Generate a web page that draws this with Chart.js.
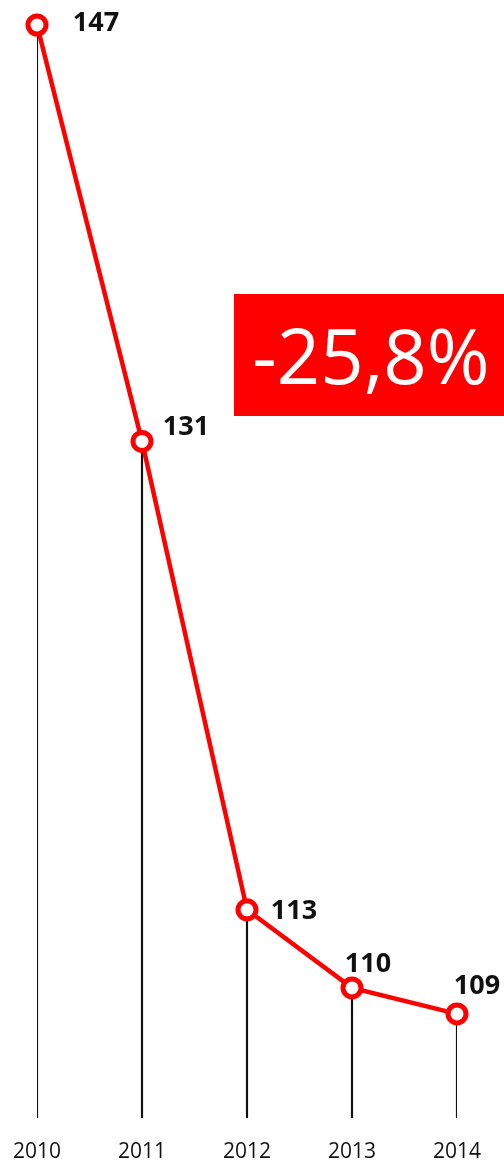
<!DOCTYPE html>
<html>
<head>
<meta charset="utf-8">
<script src="https://cdn.jsdelivr.net/npm/chart.js@4/dist/chart.umd.min.js"></script>
<style>
  html, body { margin: 0; padding: 0; background: #fff; }
  #wrap { position: relative; width: 504px; height: 1164px; }
  #badge {
    position: absolute; left: 234px; top: 294px; width: 270px; height: 122px;
    background: #ff0000; color: #fff;
    font-family: "Open Sans", sans-serif; font-size: 76px;
    line-height: 122px; text-align: center; padding-left: 2px;
  }
</style>
</head>
<body>
<div id="wrap">
  <canvas id="graph" width="504" height="1164"></canvas>
  <div id="badge">-25,8%</div>
</div>
<script>
// ------------ data ------------------------
var years = ["2010", "2011", "2012", "2013", "2014"];
var values = [147, 131, 113, 110, 109];
var yMin = 105;
var yMax = 147;

// ------------ value labels ----------------
// offsets of each label from its point (px)
var labelShift = [[59, -2], [44, -14], [47, 2], [16, -24], [20, -28]];

var valueLabels = {
  id: "valueLabels",
  afterDatasetsDraw: function (chart) {
    var ctx = chart.ctx;
    var meta = chart.getDatasetMeta(1);
    ctx.save();
    ctx.font = "bold 27px 'Open Sans', sans-serif";
    ctx.fillStyle = "#111";
    ctx.textAlign = "center";
    ctx.textBaseline = "middle";
    for (var i = 0; i < meta.data.length; i++) {
      var pt = meta.data[i];
      ctx.fillText(values[i], pt.x + labelShift[i][0], pt.y + labelShift[i][1]);
    }
    ctx.restore();
  }
};

// ------------ chart -----------------------
const ctx = document.getElementById("graph");

const myChart = new Chart(ctx, {
  type: "bar",
  data: {
    labels: years,
    datasets: [
      {
        type: "bar",
        data: values,
        backgroundColor: "#111",
        barThickness: 1.5,
        order: 2,
      },
      {
        type: "line",
        data: values,
        borderColor: "#ff0000",
        borderWidth: 4.5,
        pointRadius: 9,
        pointBorderWidth: 5,
        pointBackgroundColor: "#fff",
        pointBorderColor: "#ff0000",
        tension: 0,
        clip: false,
        order: 1,
      },
    ],
  },
  options: {
    responsive: false,
    animation: false,
    layout: { padding: { left: 37, right: 47, top: 25, bottom: 0 } },
    plugins: { legend: { display: false }, tooltip: { enabled: false } },
    scales: {
      x: {
        offset: false,
        grid: { display: false, drawTicks: false },
        border: { display: false },
        ticks: {
          font: { family: "'Open Sans', sans-serif", size: 21 },
          color: "#111",
          padding: 21,
          maxRotation: 0,
          autoSkip: false,
        },
        afterFit: function (scale) {
          scale.height = 46;
          scale.paddingLeft = 0;
          scale.paddingRight = 0;
        },
      },
      y: {
        display: false,
        min: yMin,
        max: yMax,
      },
    },
  },
  plugins: [valueLabels],
});
</script>
</body>
</html>
